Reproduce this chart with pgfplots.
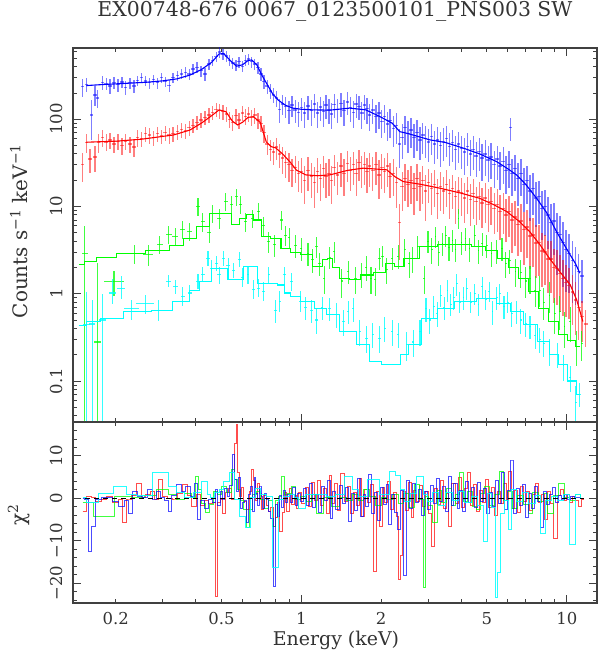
\documentclass[border=0pt]{standalone}
\usepackage{fontspec}
\setmainfont{DejaVu Serif}
\usepackage{pgfplots}
\usepackage{pgfplotstable}
\pgfplotsset{compat=1.18}
\definecolor{xblue}{RGB}{0,0,255}
\definecolor{xred}{RGB}{255,0,0}
\definecolor{xgreen}{RGB}{0,255,0}
\definecolor{xcyan}{RGB}{0,255,255}

% ---------- spectra: energy (keV), counts/s/keV, error ----------
\pgfplotstableread{
x y ey
0.150 235 40
0.155 250 35
0.162 112 40
0.167 190 35
0.171 175 30
0.178 265 35
0.184 255 30
0.190 240 35
0.197 262 30
0.204 248 30
0.211 268 30
0.218 232 30
0.226 262 28
0.234 240 30
0.242 278 28
0.250 300 30
0.259 275 28
0.268 262 28
0.277 285 28
0.287 262 28
0.297 300 30
0.307 270 28
0.318 245 28
0.329 300 30
0.341 318 32
0.353 330 32
0.366 345 35
0.378 330 35
0.391 375 38
0.405 395 40
0.419 360 38
0.434 330 40
0.449 430 45
0.463 470 48
0.478 520 50
0.492 590 60
0.507 560 60
0.522 530 55
0.537 470 50
0.552 440 50
0.567 420 45
0.583 455 50
0.600 405 45
0.617 470 50
0.634 490 55
0.651 455 50
0.668 430 48
0.686 390 45
0.705 330 40
0.724 270 35
0.744 240 32
0.764 210 30
0.785 190 28
0.806 175 28
0.828 130 30
0.851 150 28
0.874 140 28
0.898 125 28
0.923 145 28
0.948 128 28
0.974 120 28
1.00 135 30
1.03 118 28
1.06 142 32
1.09 125 30
1.12 150 34
1.15 118 28
1.18 138 32
1.21 122 30
1.24 145 32
1.27 128 30
1.30 115 28
1.33 148 34
1.37 130 30
1.41 152 34
1.45 125 30
1.49 158 35
1.53 135 32
1.57 120 30
1.61 150 34
1.65 140 32
1.69 118 30
1.73 145 34
1.77 132 32
1.81 112 28
1.86 128 30
1.91 108 28
1.96 118 30
2.01 95 25
2.06 108 28
2.11 88 24
2.16 96 26
2.22 78 22
2.28 85 24
2.34 52 18
2.40 62 20
2.46 80 22
2.52 68 20
2.59 75 21
2.66 62 19
2.73 70 20
2.80 58 18
2.87 66 19
2.94 60 18
3.02 55 17
3.10 63 18
3.18 52 16
3.26 58 17
3.35 50 16
3.44 56 17
3.53 60 17
3.62 49 15
3.71 54 16
3.81 45 14
3.91 52 15
4.01 46 14
4.11 42 14
4.22 49 15
4.33 40 13
4.44 45 14
4.56 38 12
4.68 43 13
4.80 36 12
4.93 40 13
5.06 34 11
5.19 37 12
5.33 30 10
5.47 35 11
5.61 29 10
5.76 33 11
5.91 26 9
6.06 30 10
6.15 80 18
6.22 24 8
6.38 27 9
6.55 21 8
6.72 24 8
6.90 18 7
7.08 20 7
7.27 15 6
7.46 16 6
7.66 12.5 5
7.86 13 5
8.07 9.5 4
8.28 10 4
8.50 8 3.5
8.72 6.5 3
8.95 6.8 3
9.19 5 2.5
9.43 4.8 2.2
9.68 3.9 2
9.94 3.2 1.6
10.2 2.9 1.4
10.5 2.4 1.2
10.8 2.1 1.0
11.1 1.8 0.8
11.4 1.6 0.6
}\bluedata

\pgfplotstableread{
x y ey
0.150 30 8
0.155 54 10
0.160 35 8
0.167 37 9
0.172 55 10
0.178 62 10
0.184 55 9
0.190 58 9
0.197 52 8
0.204 56 9
0.211 50 8
0.218 56 9
0.226 52 8
0.234 48 8
0.242 62 10
0.250 60 9
0.259 68 10
0.268 66 10
0.277 62 9
0.287 68 10
0.297 64 9
0.307 70 10
0.318 66 10
0.329 68 10
0.341 72 11
0.353 76 11
0.366 74 11
0.378 80 12
0.391 85 12
0.405 92 13
0.419 98 14
0.434 105 15
0.449 112 16
0.463 120 17
0.478 130 18
0.492 125 18
0.507 122 18
0.522 115 17
0.537 100 15
0.552 92 14
0.567 110 16
0.583 98 15
0.600 118 17
0.617 108 16
0.634 115 17
0.651 105 16
0.668 112 17
0.686 98 15
0.705 90 14
0.724 70 12
0.744 52 10
0.764 45 9
0.785 42 9
0.806 48 10
0.828 40 9
0.851 36 9
0.874 32 8
0.898 30 8
0.923 26 7
0.948 28 7
0.974 24 7
1.00 25 8
1.03 20 7
1.06 26 8
1.09 22 7
1.12 19 7
1.15 25 8
1.18 21 7
1.21 27 8
1.24 22 7
1.27 24 8
1.30 20 7
1.33 28 8
1.37 23 7
1.41 29 9
1.45 24 8
1.49 31 9
1.53 26 8
1.57 30 9
1.61 24 8
1.65 32 9
1.69 27 8
1.73 30 9
1.77 25 8
1.81 29 9
1.86 26 8
1.91 30 9
1.96 23 8
2.01 28 9
2.06 25 8
2.11 29 9
2.16 22 7
2.22 24 8
2.28 19 7
2.34 6.5 3
2.40 17 6
2.46 21 7
2.52 18 6
2.59 20 7
2.66 16 6
2.73 21 7
2.80 17 6
2.87 20 7
2.94 15 6
3.02 19 6
3.10 16 6
3.18 18 6
3.26 14 5
3.35 17 6
3.44 15 5
3.53 18 6
3.62 14 5
3.71 16 5
3.81 13 5
3.91 15 5
4.01 14.5 5
4.11 12.5 4.5
4.22 15 5
4.33 12 4.5
4.44 14 5
4.56 11.5 4
4.68 13 4.5
4.80 11 4
4.93 12.5 4.5
5.06 10.5 4
5.19 11.5 4
5.33 9.5 3.5
5.47 10.5 4
5.61 8.8 3.5
5.76 9.5 3.5
5.91 8 3
6.06 8.8 3.2
6.22 7 3
6.38 7.6 3
6.55 6.2 2.6
6.72 6.8 2.8
6.90 5.4 2.4
7.08 5.8 2.4
7.27 4.6 2
7.46 4.7 2
7.66 3.8 1.7
7.86 3.9 1.7
8.07 3.1 1.4
8.28 3.0 1.3
8.50 2.5 1.1
8.72 2.5 1.1
8.95 2.0 0.9
9.19 1.95 0.9
9.43 1.7 0.8
9.68 1.5 0.7
9.94 1.35 0.6
10.2 1.25 0.55
10.5 1.05 0.45
10.8 0.85 0.38
11.1 0.7 0.3
11.4 0.55 0.2
11.8 0.45 0.15
}\reddata

\pgfplotstableread{
x y ex eyp eym
0.153 2.9 0.004 3.0 2.88
0.171 0.28 0.005 2.0 0.27
0.197 1.38 0.017 0.45 0.45
0.236 2.92 0.02 0.7 0.7
0.265 2.8 0.012 0.8 0.7
0.293 3.63 0.008 0.9 0.8
0.317 4.73 0.008 1.2 1.0
0.335 4.5 0.008 1.1 1.0
0.358 5.4 0.008 1.4 1.2
0.380 5.2 0.008 1.3 1.2
0.408 10.0 0.008 2.5 2.2
0.426 6.7 0.008 1.8 1.6
0.450 5.0 0.008 1.4 1.2
0.462 8.3 0.008 2.0 1.8
0.490 7.3 0.008 2.0 1.8
0.520 11.4 0.008 2.8 2.5
0.545 10.5 0.008 2.6 2.3
0.569 13.0 0.008 3.0 2.8
0.590 10.5 0.008 2.6 2.3
0.618 6.7 0.008 1.8 1.6
0.655 7.3 0.009 1.9 1.7
0.690 8.75 0.009 2.2 2.0
0.720 6.0 0.009 1.6 1.4
0.750 3.96 0.009 1.2 1.0
0.790 3.63 0.01 1.1 1.0
0.840 7.0 0.01 1.8 1.6
0.870 4.7 0.01 1.3 1.2
0.900 4.4 0.01 1.3 1.1
0.950 3.6 0.01 1.1 1.0
1.00 3.3 0.01 1.0 0.9
1.06 2.9 0.012 0.9 0.8
1.10 2.45 0.012 0.8 0.7
1.14 3.5 0.012 1.0 0.9
1.17 2.2 0.012 0.7 0.6
1.22 1.5 0.012 0.6 0.5
1.28 2.6 0.012 0.8 0.7
1.33 3.04 0.012 0.9 0.8
1.42 1.4 0.015 0.5 0.5
1.50 1.8 0.015 0.6 0.5
1.60 1.5 0.015 0.5 0.5
1.69 1.65 0.015 0.6 0.5
1.76 2.0 0.015 0.7 0.6
1.83 1.5 0.015 0.5 0.5
1.90 1.45 0.015 0.5 0.5
1.97 2.55 0.02 0.8 0.7
2.02 2.7 0.02 0.8 0.7
2.10 1.9 0.02 0.7 0.6
2.20 2.55 0.02 0.8 0.7
2.32 2.7 0.02 0.9 0.8
2.45 3.2 0.02 1.0 0.9
2.55 2.2 0.02 0.8 0.7
2.62 2.55 0.02 0.9 0.8
2.75 3.5 0.02 1.1 1.0
2.90 1.5 0.02 0.6 0.5
3.00 4.0 0.02 1.2 1.1
3.10 3.2 0.02 1.1 1.0
3.20 4.5 0.02 1.3 1.2
3.30 3.0 0.02 1.0 0.9
3.40 3.8 0.02 1.2 1.1
3.50 4.6 0.02 1.4 1.2
3.60 3.4 0.02 1.1 1.0
3.70 4.1 0.02 1.3 1.1
3.80 3.2 0.02 1.0 0.9
3.90 7.35 0.02 2.0 1.8
4.00 3.9 0.02 1.2 1.1
4.15 4.3 0.03 1.3 1.2
4.30 3.3 0.03 1.0 1.0
4.50 4.7 0.03 1.4 1.2
4.65 3.1 0.03 1.0 0.9
4.80 3.8 0.03 1.2 1.1
5.00 3.6 0.03 1.1 1.0
5.20 2.9 0.03 1.0 0.9
5.44 3.1 0.03 1.0 0.9
5.70 3.3 0.03 1.0 0.9
5.90 2.2 0.03 0.8 0.7
6.10 2.4 0.04 0.8 0.7
6.40 1.8 0.04 0.7 0.6
6.70 1.75 0.04 0.7 0.6
7.00 1.4 0.04 0.6 0.5
7.27 1.5 0.04 0.6 0.5
7.60 1.1 0.05 0.5 0.4
7.90 1.1 0.05 0.5 0.4
8.20 0.8 0.05 0.35 0.3
8.60 0.95 0.05 0.4 0.35
9.00 0.6 0.05 0.3 0.25
9.40 0.63 0.06 0.3 0.25
9.80 0.42 0.06 0.2 0.18
10.3 0.48 0.06 0.22 0.2
10.9 0.25 0.08 0.12 0.1
11.4 0.27 0.08 0.1 0.1
}\greendata

\pgfplotstableread{
x y ex eyp eym
0.155 0.44 0.005 0.6 0.43
0.163 0.45 0.004 0.4 0.44
0.178 0.5 0.005 0.5 0.49
0.195 1.02 0.006 0.45 0.25
0.210 1.16 0.007 0.45 0.3
0.230 0.684 0.015 0.17 0.18
0.258 0.78 0.02 0.2 0.2
0.290 0.64 0.008 0.2 0.15
0.317 1.38 0.007 0.25 0.2
0.335 1.2 0.007 0.25 0.2
0.358 0.93 0.007 0.25 0.2
0.380 1.02 0.007 0.25 0.2
0.408 1.38 0.007 0.3 0.25
0.426 1.65 0.007 0.35 0.3
0.445 2.55 0.007 0.55 0.45
0.460 1.96 0.007 0.45 0.4
0.480 2.2 0.007 0.5 0.4
0.490 1.65 0.007 0.4 0.35
0.510 2.55 0.007 0.55 0.45
0.530 2.1 0.008 0.45 0.4
0.555 1.85 0.008 0.4 0.35
0.585 2.45 0.008 0.55 0.45
0.600 1.55 0.008 0.4 0.35
0.630 1.65 0.008 0.4 0.35
0.660 1.12 0.008 0.3 0.25
0.690 1.16 0.008 0.3 0.25
0.720 1.07 0.008 0.3 0.25
0.755 1.65 0.009 0.4 0.35
0.800 0.64 0.009 0.2 0.18
0.830 0.82 0.009 0.25 0.2
0.865 1.65 0.01 0.4 0.35
0.920 1.38 0.01 0.35 0.3
0.990 0.82 0.01 0.25 0.2
1.04 0.7 0.012 0.22 0.2
1.09 0.64 0.012 0.2 0.18
1.14 0.5 0.012 0.17 0.15
1.20 0.7 0.012 0.22 0.2
1.28 0.684 0.015 0.22 0.2
1.36 0.58 0.015 0.2 0.17
1.44 0.48 0.015 0.17 0.15
1.50 0.63 0.015 0.2 0.18
1.57 0.68 0.015 0.22 0.2
1.66 0.37 0.015 0.13 0.12
1.76 0.31 0.02 0.12 0.1
1.86 0.34 0.02 0.12 0.1
1.97 0.31 0.02 0.12 0.1
2.06 0.4 0.02 0.14 0.12
2.20 0.37 0.02 0.13 0.12
2.32 0.34 0.02 0.12 0.1
2.50 0.26 0.02 0.1 0.09
2.64 0.28 0.02 0.1 0.09
2.80 0.37 0.02 0.13 0.12
2.95 0.68 0.02 0.22 0.2
3.05 0.5 0.02 0.17 0.15
3.15 0.72 0.02 0.22 0.2
3.25 0.6 0.02 0.2 0.18
3.35 0.95 0.02 0.3 0.25
3.45 0.7 0.02 0.22 0.2
3.55 1.1 0.02 0.35 0.3
3.65 0.75 0.02 0.25 0.2
3.75 0.9 0.02 0.3 0.25
3.85 1.3 0.02 0.4 0.35
3.95 0.8 0.02 0.25 0.2
4.08 0.9 0.02 0.3 0.25
4.20 1.15 0.02 0.35 0.3
4.35 0.8 0.03 0.25 0.2
4.50 1.0 0.03 0.3 0.25
4.65 0.75 0.03 0.25 0.2
4.80 1.2 0.03 0.35 0.3
4.95 0.85 0.03 0.25 0.2
5.10 1.05 0.03 0.3 0.25
5.25 0.62 0.03 0.2 0.18
5.44 0.9 0.03 0.3 0.25
5.60 1.0 0.03 0.3 0.25
5.80 0.72 0.03 0.22 0.2
6.00 0.8 0.04 0.25 0.2
6.20 0.6 0.04 0.2 0.18
6.47 0.625 0.04 0.2 0.18
6.70 0.5 0.04 0.17 0.15
7.00 0.45 0.04 0.15 0.13
7.27 0.42 0.04 0.14 0.12
7.60 0.33 0.05 0.12 0.1
7.90 0.3 0.05 0.11 0.09
8.20 0.27 0.05 0.1 0.08
8.60 0.22 0.05 0.08 0.07
9.20 0.2 0.06 0.07 0.06
9.70 0.15 0.06 0.05 0.05
10.3 0.11 0.06 0.04 0.035
10.8 0.057 0.08 0.03 0.03
11.2 0.07 0.08 0.025 0.02
}\cyandata

% ---------- residuals: energy (keV), chi ----------
\pgfplotstableread{
x y
0.150 0
0.155 -0.3
0.160 -12.6
0.165 -6.6
0.172 -0.2
0.180 0.3
0.190 0.1
0.200 -0.8
0.210 -1.9
0.220 -0.5
0.226 -3.5
0.236 1.6
0.246 0.4
0.258 0.2
0.270 2.0
0.280 -0.4
0.290 1.7
0.300 0.3
0.310 -0.5
0.320 -3.0
0.330 0.6
0.345 3.2
0.360 1.5
0.375 2.8
0.390 0.4
0.400 3.4
0.410 -5.0
0.425 -0.6
0.440 -2.3
0.455 -0.2
0.470 -0.9
0.480 2.0
0.490 -1.6
0.500 1.6
0.510 -0.4
0.520 2.4
0.530 0.5
0.545 3.1
0.556 10.3
0.565 4.4
0.575 1.5
0.585 5.0
0.595 -2.4
0.605 -1.0
0.615 -0.5
0.625 -5.6
0.640 0.8
0.650 2.7
0.660 -3.2
0.670 4.8
0.680 1.2
0.690 -1.8
0.700 2.9
0.710 0.4
0.720 -2.4
0.730 1.1
0.745 -0.4
0.760 -3.1
0.775 -4.8
0.790 -20.7
0.805 -1.5
0.820 -4.2
0.835 0.6
0.850 -2.2
0.865 1.9
0.880 -1.1
0.900 0.8
0.920 -0.9
0.940 2.6
0.960 -1.6
0.980 1.2
1.00 -0.7
1.03 2.2
1.06 -1.8
1.09 3.4
1.12 -2.1
1.15 1.0
1.18 -3.4
1.21 2.7
1.24 -0.6
1.27 4.2
1.30 -4.8
1.33 1.6
1.37 -2.6
1.41 3.0
1.45 -1.2
1.49 2.5
1.53 -5.4
1.57 1.1
1.61 -2.9
1.65 4.6
1.69 -4.2
1.73 0.9
1.77 -2.0
1.81 5.6
1.86 -3.6
1.91 1.4
1.96 -5.3
2.01 2.6
2.06 -1.4
2.11 3.3
2.16 -6.2
2.22 0.8
2.28 -3.3
2.34 -7.4
2.40 1.8
2.46 -18.3
2.52 4.2
2.59 -2.4
2.66 3.6
2.73 -1.0
2.80 2.1
2.87 -4.1
2.94 1.5
3.02 -2.6
3.10 3.1
3.18 -1.3
3.26 4.7
3.35 -0.8
3.44 2.9
3.53 -3.2
3.62 5.2
3.71 -1.6
3.81 3.5
3.91 -2.4
4.01 1.8
4.11 -3.0
4.22 4.0
4.33 -1.1
4.44 2.6
4.56 -2.2
4.68 3.8
4.80 -0.7
4.93 2.3
5.06 -3.7
5.19 1.4
5.33 -2.0
5.47 4.1
5.61 -1.3
5.76 6.1
5.91 -2.7
6.06 1.9
6.22 8.8
6.38 -3.6
6.55 2.2
6.72 -1.8
6.90 3.2
7.08 -4.6
7.27 1.2
7.46 -2.4
7.66 2.8
7.86 -0.8
8.07 -6.9
8.28 1.6
8.50 -1.4
8.72 0.8
8.95 2.6
9.19 -1.0
9.43 0.6
9.68 -0.4
9.94 1.0
10.2 -0.2
10.5 0.4
10.8 0.2
11.1 0.1
11.4 0
}\blueres

\pgfplotstableread{
x y
0.150 -3.1
0.160 0.5
0.165 0.2
0.172 -0.7
0.180 -0.3
0.190 0.4
0.200 -1.1
0.210 -0.2
0.215 -5.8
0.225 -0.4
0.235 0.6
0.245 3.6
0.255 0.2
0.265 0.9
0.275 1.6
0.285 -0.3
0.295 4.4
0.305 0.5
0.320 -0.1
0.335 -0.4
0.350 1.1
0.365 3.2
0.380 0.6
0.395 -1.9
0.410 0.8
0.425 -1.8
0.440 -0.5
0.455 -1.2
0.470 -0.9
0.479 -23.1
0.490 -1.1
0.500 -0.3
0.510 -3.5
0.525 1.3
0.540 2.4
0.555 -0.2
0.565 13.0
0.572 17.5
0.580 6.0
0.590 0.4
0.600 2.5
0.615 -0.8
0.630 -2.6
0.645 1.7
0.655 6.8
0.665 4.1
0.675 -0.6
0.690 3.5
0.700 1.1
0.715 -2.6
0.730 0.7
0.745 -1.6
0.760 -3.1
0.775 -2.2
0.790 -6.6
0.805 -4.6
0.820 -0.9
0.840 -7.8
0.855 -3.4
0.870 1.3
0.890 -3.1
0.910 2.2
0.930 -1.5
0.950 0.6
0.970 -2.4
0.990 1.4
1.02 -1.2
1.05 2.6
1.08 -2.0
1.11 3.8
1.14 -0.6
1.17 4.2
1.20 -1.7
1.23 2.3
1.26 -3.6
1.29 5.4
1.32 -1.2
1.35 3.4
1.39 -2.8
1.43 5.8
1.47 -0.7
1.51 2.7
1.55 -3.6
1.59 1.4
1.63 -1.8
1.67 4.6
1.71 -4.4
1.75 2.1
1.79 -0.9
1.84 3.3
1.89 -17.2
1.94 1.6
1.99 -6.6
2.04 2.5
2.09 -1.1
2.14 3.9
2.19 -2.6
2.25 1.3
2.31 -4.3
2.35 -19.2
2.38 -13.4
2.43 1.6
2.49 -2.9
2.56 3.8
2.62 -4.6
2.69 1.9
2.76 -0.8
2.83 3.0
2.90 -2.0
2.98 1.6
3.06 -3.5
3.15 -11.3
3.22 2.4
3.30 -1.4
3.39 4.1
3.48 -2.3
3.57 1.2
3.62 -6.6
3.76 3.4
3.86 -1.2
3.96 5.0
4.06 -2.2
4.17 2.4
4.28 6.0
4.38 -1.6
4.50 3.3
4.62 -3.0
4.74 1.9
4.86 -0.9
4.99 4.4
5.12 -2.1
5.26 2.6
5.40 -4.0
5.54 1.7
5.68 -1.2
5.84 3.6
5.98 -0.6
6.10 6.4
6.30 -2.5
6.46 1.8
6.63 -3.3
6.81 2.9
6.99 -0.7
7.17 1.6
7.36 -2.8
7.56 0.9
7.70 3.6
7.96 -1.0
8.17 0.8
8.30 -5.0
8.61 1.5
8.83 -1.2
9.07 -9.4
9.31 0.6
9.56 2.0
9.81 -0.5
10.07 0.9
10.35 -1.1
10.65 0.4
10.95 -0.6
11.2 -2.0
11.6 -0.3
}\redres

\pgfplotstableread{
x y
0.150 -1.1
0.180 -4.4
0.217 0.4
0.245 0.1
0.270 0.6
0.300 2.0
0.330 0.9
0.350 -0.2
0.375 1.2
0.395 0.2
0.405 5.2
0.415 2.0
0.430 -1.2
0.445 -3.3
0.460 -1.4
0.475 1.6
0.490 0.8
0.510 2.7
0.540 1.4
0.555 6.8
0.565 4.5
0.580 2.0
0.600 -0.6
0.615 -2.7
0.630 -7.0
0.645 -2.7
0.665 0.9
0.690 1.5
0.710 -0.2
0.740 -2.3
0.770 -0.5
0.790 -6.6
0.810 -0.5
0.835 0.5
0.855 5.2
0.875 0.9
0.900 1.2
0.930 2.8
0.970 -0.3
1.02 0.4
1.07 -0.8
1.12 0.9
1.17 -3.5
1.26 0.3
1.33 -2.0
1.45 0.1
1.52 -0.6
1.60 0.9
1.68 -0.5
1.76 2.0
1.85 0.4
1.95 -1.6
2.05 0.3
2.15 -0.4
2.26 0.9
2.37 -1.3
2.48 1.1
2.60 -2.2
2.72 3.2
2.86 -0.3
2.90 -21.1
2.96 0.5
3.05 -1.6
3.20 -5.8
3.30 1.8
3.45 -0.9
3.60 2.3
3.75 -1.8
3.90 0.9
4.00 6.0
4.15 -0.8
4.30 1.5
4.50 -1.9
4.65 -2.7
4.80 1.2
5.00 2.8
5.20 -1.6
5.45 0.8
5.70 6.4
5.90 -0.5
6.10 1.7
6.40 -2.3
6.70 0.6
7.00 -1.4
7.30 -3.5
7.60 1.3
8.00 -0.8
8.30 1.2
8.70 -3.5
9.10 0.6
9.60 3.6
10.0 0.2
10.5 -0.5
11.0 0.9
11.5 0
}\greenres

\pgfplotstableread{
x y
0.150 0.1
0.160 -1.1
0.184 1.1
0.210 2.7
0.230 0.9
0.250 0.6
0.300 6.1
0.330 2.8
0.350 1.3
0.375 0.1
0.410 1.3
0.435 4.0
0.450 0.9
0.460 0.1
0.480 1.3
0.500 2.0
0.520 4.0
0.550 6.0
0.575 -0.3
0.600 -4.2
0.630 -7.0
0.660 0.1
0.690 2.4
0.720 0.9
0.760 0.5
0.800 -16.4
0.840 -0.3
0.880 0.5
0.920 0.9
0.960 0.3
1.00 -2.3
1.08 0.9
1.20 0.9
1.30 0.5
1.40 0.9
1.52 5.2
1.60 2.0
1.70 0.4
1.84 4.4
2.10 1.0
2.20 6.4
2.32 5.4
2.40 2.0
2.50 -0.8
2.65 1.2
2.80 5.2
2.95 0.8
3.05 -0.7
3.20 1.3
3.40 -1.6
3.60 1.3
3.80 -0.6
4.00 1.6
4.25 -1.0
4.50 0.4
4.75 -1.8
4.95 -10.1
5.10 1.2
5.30 -2.2
5.45 -23.5
5.55 -17.6
5.70 -3.5
5.95 -0.5
6.10 -7.4
6.30 2.0
6.60 -0.8
7.00 1.3
7.40 -1.2
7.80 0.6
8.20 -8.2
8.50 -0.5
9.00 0.4
9.50 -0.6
10.0 0.8
10.5 -10.9
11.1 0.9
11.5 0
}\cyanres

\begin{document}
\begin{tikzpicture}
\useasboundingbox (0,0) rectangle (599bp,657bp);

% upper panel: spectra and models
\begin{axis}[at={(73bp,235bp)}, anchor=south west,
  scale only axis, width=524bp, height=374bp,
  xmode=log, ymode=log, xmin=0.138, xmax=13, ymin=0.0339, ymax=655,
  axis line style={black!75, line width=1.1bp},
  tick style={black!75, line width=0.9bp},
  tick align=inside, xtick pos=both, ytick pos=both,
  major tick length=8bp, minor tick length=4.5bp,
  xtick={1,10}, xticklabels={},
  minor xtick={0.2,0.3,0.4,0.5,0.6,0.7,0.8,0.9,2,3,4,5,6,7,8,9},
  ytick={0.1,1,10,100}, yticklabels={0.1,1,10,100},
  minor ytick={0.04,0.05,0.06,0.07,0.08,0.09,0.2,0.3,0.4,0.5,0.6,0.7,0.8,0.9,2,3,4,5,6,7,8,9,20,30,40,50,60,70,80,90,200,300,400,500,600},
  tick label style={font=\fontsize{16.5}{19}\selectfont, text=black!80},
  yticklabel style={xshift=-7bp, rotate=90, anchor=south},
  error bars/error mark=none]
\addplot[xblue, mark=none, draw opacity=0, error bars/.cd, x dir=both, x explicit, y dir=both, y explicit,
  error bar style={draw opacity=0.5, line width=1.3bp}]
  table[x=x, y=y, x error expr=\thisrow{x}*0.015, y error expr=\thisrow{ey}*1.35] {\bluedata};
\addplot[xred, mark=none, draw opacity=0, error bars/.cd, x dir=both, x explicit, y dir=both, y explicit,
  error bar style={draw opacity=0.5, line width=1.3bp}]
  table[x=x, y=y, x error expr=\thisrow{x}*0.015, y error expr=\thisrow{ey}*1.35] {\reddata};
\addplot[xgreen, mark=none, draw opacity=0, error bars/.cd, x dir=both, x explicit, y dir=both, y explicit,
  error bar style={draw opacity=0.75, line width=1.1bp}]
  table[x=x, y=y, x error=ex, y error plus=eyp, y error minus=eym] {\greendata};
\addplot[xcyan, mark=none, draw opacity=0, error bars/.cd, x dir=both, x explicit, y dir=both, y explicit,
  error bar style={draw opacity=0.8, line width=1.1bp}]
  table[x=x, y=y, x error=ex, y error plus=eyp, y error minus=eym] {\cyandata};

\addplot[xblue, line width=1.1bp] coordinates {
(0.155,243) (0.18,250) (0.22,258) (0.26,265) (0.30,275) (0.34,290) (0.38,320)
(0.42,370) (0.46,450) (0.49,560) (0.51,565) (0.54,470) (0.57,405) (0.60,420)
(0.63,470) (0.65,478) (0.68,420) (0.71,320) (0.75,240) (0.78,195) (0.82,165)
(0.87,145) (0.93,134) (1.0,130) (1.1,128) (1.28,127) (1.52,134) (1.75,128)
(1.98,107) (2.2,90) (2.35,72) (2.5,69) (3.05,58) (3.5,54) (4.08,46.6) (4.7,40)
(5.44,32.7) (6.0,27) (6.47,23) (7.0,18) (7.7,12.4) (8.4,8.5) (9.15,5.15)
(9.7,3.8) (10.3,2.79) (10.8,2.2) (11.2,1.72)};
\addplot[xred, line width=1.1bp] coordinates {
(0.155,54.5) (0.2,56) (0.25,59) (0.33,66) (0.38,75) (0.42,90) (0.46,110)
(0.49,128) (0.52,122) (0.55,95) (0.575,86) (0.60,92) (0.63,105) (0.66,107)
(0.70,92) (0.738,55) (0.77,48.5) (0.80,47) (0.85,40) (0.904,32.7) (0.96,26)
(1.04,23) (1.15,22.5) (1.28,23) (1.5,26) (1.71,27.5) (2.1,26.3) (2.25,22)
(2.42,19.3) (2.8,18) (3.33,16.2) (4.0,14.2) (4.7,12.4) (5.3,10.5) (5.94,8.75)
(6.6,6.8) (7.25,5.15) (7.9,3.7) (8.6,2.55) (9.4,1.8) (10.3,1.27) (10.9,0.85)
(11.5,0.48)};
\addplot[xgreen, line width=1.1bp, const plot mark mid] coordinates {
(0.145,2.15) (0.16,2.34) (0.18,2.62) (0.226,2.92) (0.297,3.13) (0.34,3.6)
(0.38,4.33) (0.426,5.89) (0.478,8.3) (0.52,8.3) (0.569,6.17) (0.60,7.2)
(0.639,8.0) (0.68,7.0) (0.738,4.52) (0.80,4.3) (0.878,3.32) (0.95,3.0)
(1.04,2.79) (1.17,2.05) (1.23,2.45) (1.28,2.55) (1.35,2.0) (1.44,1.51)
(1.59,1.44) (1.76,1.64) (2.0,1.74) (2.16,2.24) (2.32,2.05) (2.56,2.55)
(3.05,3.47) (3.5,3.65) (4.08,3.7) (4.7,3.5) (5.2,3.1) (5.77,2.55) (6.3,2.0)
(6.86,1.51) (7.5,1.05) (8.2,0.684) (8.9,0.48) (9.7,0.338) (10.4,0.29)
(11.2,0.248)};
\addplot[xcyan, line width=1.1bp, const plot mark mid] coordinates {
(0.145,0.433) (0.167,0.48) (0.184,0.515) (0.247,0.625) (0.30,0.64)
(0.358,0.815) (0.40,1.1) (0.426,1.38) (0.493,1.96) (0.569,1.44) (0.648,2.05)
(0.717,1.32) (0.78,1.3) (0.85,1.26) (0.878,1.02) (0.95,0.92) (1.04,0.815)
(1.2,0.68) (1.28,0.573) (1.52,0.369) (1.71,0.26) (1.92,0.168) (2.1,0.155)
(2.29,0.153) (2.45,0.2) (2.64,0.26) (3.05,0.525) (3.5,0.68) (4.08,0.815)
(5.13,0.875) (5.8,0.78) (6.47,0.625) (7.3,0.44) (8.2,0.284) (9.0,0.2)
(9.7,0.153) (10.5,0.1) (11.2,0.0695)};
\end{axis}

% lower panel: residuals
\begin{axis}[at={(73bp,54bp)}, anchor=south west,
  scale only axis, width=524bp, height=181bp,
  xmode=log, xmin=0.138, xmax=13, ymin=-24.7, ymax=18,
  clip mode=individual,
  axis line style={black!75, line width=1.1bp},
  tick style={black!75, line width=0.9bp},
  tick align=inside, xtick pos=both, ytick pos=both,
  major tick length=8bp, minor tick length=4.5bp,
  xtick={1,10}, xticklabels={1,10},
  minor xtick={0.2,0.3,0.4,0.5,0.6,0.7,0.8,0.9,2,3,4,5,6,7,8,9},
  ytick={-20,-10,0,10}, yticklabels={−20,−10,0,10},
  minor ytick={-24,-22,-18,-16,-14,-12,-8,-6,-4,-2,2,4,6,8,12,14,16},
  tick label style={font=\fontsize{16.5}{19}\selectfont, text=black!80},
  xticklabel style={yshift=-6bp},
  yticklabel style={xshift=-7bp, rotate=90, anchor=south}]
\addplot[xred, line width=1bp, opacity=0.7, const plot mark mid] table[x=x, y=y] {\redres};
\addplot[xgreen, line width=1bp, opacity=0.75, const plot mark mid] table[x=x, y=y] {\greenres};
\addplot[xblue, line width=1bp, opacity=0.7, const plot mark mid] table[x=x, y=y] {\blueres};
\addplot[xcyan, line width=1bp, opacity=0.85, const plot mark mid] table[x=x, y=y] {\cyanres};
\addplot[black, line width=0.9bp, dash pattern=on 5bp off 4bp] coordinates {(0.153,0) (11.6,0)};
% labels of the labelled minor ticks
\node[anchor=north, yshift=-6bp, font=\fontsize{16.5}{19}\selectfont, text=black!80] at (axis cs:0.2,-24.7) {0.2};
\node[anchor=north, yshift=-6bp, font=\fontsize{16.5}{19}\selectfont, text=black!80] at (axis cs:0.5,-24.7) {0.5};
\node[anchor=north, yshift=-6bp, font=\fontsize{16.5}{19}\selectfont, text=black!80] at (axis cs:2,-24.7) {2};
\node[anchor=north, yshift=-6bp, font=\fontsize{16.5}{19}\selectfont, text=black!80] at (axis cs:5,-24.7) {5};
\end{axis}

\node[font=\fontsize{20.5}{24}\selectfont, text=black!80] at (335bp,646bp)
  {EX00748-676 0067\_0123500101\_PNS003 SW};
\node[rotate=90, font=\fontsize{20}{24}\selectfont, text=black!80] at (19bp,426bp)
  {Counts s\textsuperscript{−1} keV\textsuperscript{−1}};
\node[rotate=90, font=\fontsize{20}{24}\selectfont, text=black!80] at (19bp,142bp)
  {χ\textsuperscript{2}};
\node[anchor=base, font=\fontsize{19}{23}\selectfont, text=black!80] at (336bp,12bp)
  {Energy (keV)};
\end{tikzpicture}
\end{document}
